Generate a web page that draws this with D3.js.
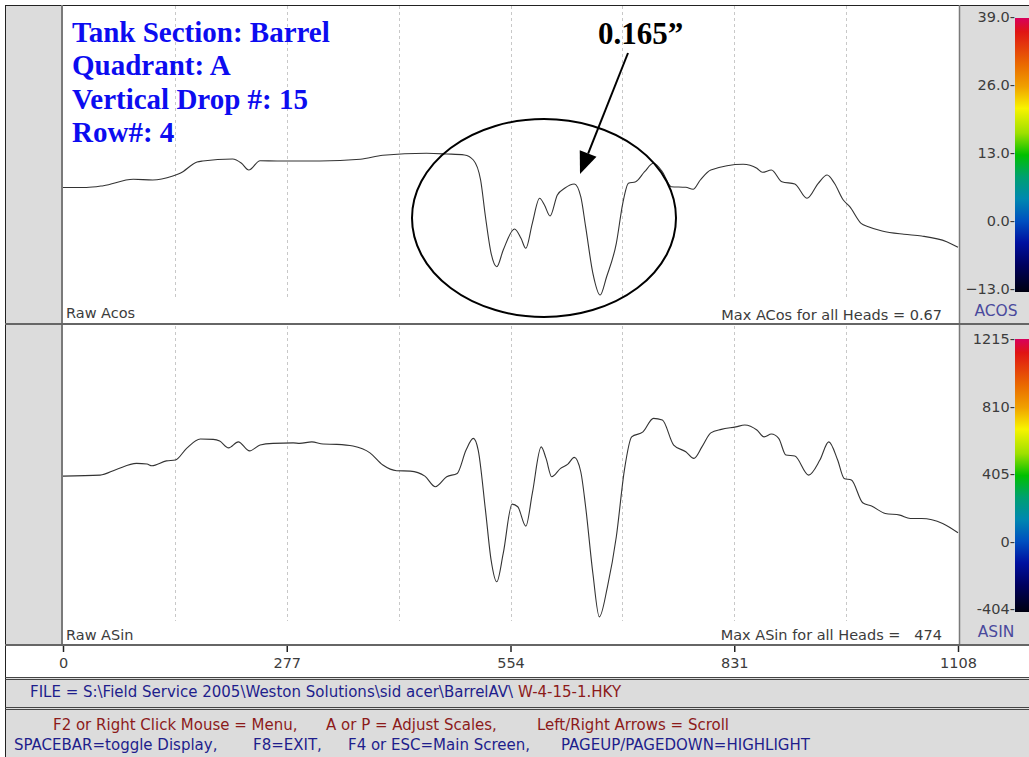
<!DOCTYPE html>
<html><head><meta charset="utf-8">
<script src="https://cdn.jsdelivr.net/npm/d3@7/dist/d3.min.js"></script>
<style>
html,body{margin:0;padding:0;background:#fff;}
svg{display:block;font-family:"DejaVu Sans",sans-serif;}
</style></head>
<body>
<svg id="chart" width="1029" height="757"></svg>
<script>
// ---------------- DATA ----------------
const xTicks = [0, 277, 554, 831, 1108];
const gridPositions = [138.5, 277, 415.5, 554, 692.5, 831, 969.5];
const acosTicks = [39, 26, 13, 0, -13];
const asinTicks = [1215, 810, 405, 0, -404];

const acosPos = [0,29,50,87,111,136,145,166,173,210,221,230,244,265,318,368,396,450,475,497,508,517,523,530,537,545,559,567,573,581,590,596,603,612,621,633,641,647,656,665,673,685,693,700,709,720,731,742,753,771,780,789,802,842,859,866,877,890,906,921,935,946,955,966,974,988,997,1014,1041,1063,1094,1108];
const acosVal = [6.4,6.4,6.75,7.97,7.84,8.6,9.12,11.28,11.47,11.85,11.03,9.75,11.53,11.47,11.47,11.8,12.56,12.94,12.81,12.62,11.66,7.84,0.82,-6.18,-8.74,-5.54,-1.53,-3.31,-5.22,-0.44,4.34,3.06,0.96,4.97,6.25,7.07,4.65,-1.09,-10.0,-14.15,-10.65,-4.26,3.38,7.21,7.51,9.42,11.03,9.42,6.56,6.44,6.06,7.84,9.75,10.84,10.08,9.31,9.75,7.51,7.07,4.34,7.21,8.79,7.21,4.01,2.73,-0.44,-1.09,-1.91,-2.54,-2.87,-3.96,-5.03];

const asinPos = [0,46,66,91,104,110,128,139,153,170,186,194,205,217,231,244,260,285,293,308,322,339,359,380,396,413,430,448,461,475,488,499,508,514,523,530,537,545,556,563,573,581,592,598,605,616,625,633,641,647,656,664,674,685,695,704,718,731,742,756,771,781,791,802,815,833,844,859,868,877,886,895,906,923,937,948,959,967,976,990,1001,1018,1036,1049,1063,1089,1108];
const asinVal = [393,399,433,469,465,455,484,489,559,615,613,603,562,598,544,579,589,592,589,598,585,583,573,532,459,425,423,393,329,389,409,549,619,549,189,-111,-241,-71,225,209,93,289,568,499,389,439,465,505,419,209,-191,-451,-271,29,429,628,658,739,729,579,539,499,568,652,673,688,699,669,628,645,619,519,513,399,489,598,489,379,369,233,213,169,159,139,139,109,53];

const titleLines = ["Tank Section: Barrel", "Quadrant: A", "Vertical Drop #: 15", "Row#: 4"];
const calloutText = "0.165\u201D";
const acosMaxText = "Max ACos for all Heads = 0.67";
const asinMaxText = "Max ASin for all Heads =   474";

// ---------------- DRAW ----------------
const svg = d3.select("#chart");
const GREY = "#dcdcdc";
const SERIF = "'Liberation Serif','Times New Roman',serif";
const SANS = "'DejaVu Sans',sans-serif";
const L = 63, R = 959;
const x = d3.scaleLinear().domain([0, 1108]).range([L, 958]);
const yA = d3.scaleLinear().domain([-13, 39]).range([289, 17]);
const yS = d3.scaleLinear().domain([-404, 1215]).range([609, 339]);

// backgrounds
svg.append("rect").attr("x",5).attr("y",5).attr("width",1024).attr("height",752).attr("fill",GREY);
svg.append("rect").attr("x",L).attr("y",5).attr("width",R-L).attr("height",318).attr("fill","#fff");
svg.append("rect").attr("x",L).attr("y",325).attr("width",R-L).attr("height",320).attr("fill","#fff");
svg.append("rect").attr("x",5).attr("y",646).attr("width",1024).attr("height",31).attr("fill","#fff");

// frame lines
const ln = (x1,y1,x2,y2,c,w)=>svg.append("line").attr("x1",x1).attr("y1",y1).attr("x2",x2).attr("y2",y2).attr("stroke",c).attr("stroke-width",w);
ln(5.5,5,5.5,757,"#222",1);
ln(5,5.5,1029,5.5,"#222",1);
ln(62,5,62,645,"#7a7a7a",2);
ln(959.5,5,959.5,645,"#7a7a7a",1.5);
ln(5,324,1029,324,"#666",2);
ln(5,645,1029,645,"#666",2);
ln(5,677.5,1029,677.5,"#444",1);
ln(5,679.5,1029,679.5,"#444",1);
ln(5,707.5,1029,707.5,"#444",1);
ln(5,709.5,1029,709.5,"#444",1);

// grid
function grid(y1,y2){
  svg.append("g").selectAll("line").data(gridPositions).join("line")
    .attr("x1",d=>Math.round(x(d))+0.5).attr("x2",d=>Math.round(x(d))+0.5)
    .attr("y1",y1).attr("y2",y2)
    .attr("stroke","#c8c8c8").attr("stroke-width",1).attr("stroke-dasharray","3,3");
}
grid(6,300); grid(326,621);

// curves
const lineA = d3.line().x((d,i)=>x(acosPos[i])).y(d=>yA(d)).curve(d3.curveMonotoneX);
const lineS = d3.line().x((d,i)=>x(asinPos[i])).y(d=>yS(d)).curve(d3.curveMonotoneX);
svg.append("path").attr("d",lineA(acosVal)).attr("fill","none").attr("stroke","#333").attr("stroke-width",1.1);
svg.append("path").attr("d",lineS(asinVal)).attr("fill","none").attr("stroke","#333").attr("stroke-width",1.1);

// panel labels
const lab = (t,xx,yy,anchor,col,size)=>svg.append("text").attr("x",xx).attr("y",yy).attr("text-anchor",anchor||"start")
  .attr("fill",col||"#3c3c3c").attr("font-size",size||14.5).style("font-family",SANS).style("white-space","pre").text(t);
lab("Raw Acos",66,318);
lab(acosMaxText,942,320,"end");
lab("Raw ASin",66,640);
lab(asinMaxText,942,640,"end");
lab("ACOS",996,316,"middle","#4a4a9c",15.5);
lab("ASIN",996,637,"middle","#4a4a9c",15.5);

// colour bars
const defs = svg.append("defs");
const grad = defs.append("linearGradient").attr("id","rb").attr("x1",0).attr("y1",0).attr("x2",0).attr("y2",1);
[[0,"#d8005c"],[0.05,"#e01414"],[0.17,"#ea6a00"],[0.25,"#f0a000"],[0.33,"#f8f400"],[0.42,"#9ee000"],[0.5,"#00c000"],[0.58,"#00a070"],[0.66,"#0088b0"],[0.74,"#0050c0"],[0.82,"#0010a0"],[0.9,"#000060"],[1,"#000010"]]
 .forEach(s=>grad.append("stop").attr("offset",s[0]).attr("stop-color",s[1]));
svg.append("rect").attr("x",1015).attr("y",yA(39)+1).attr("width",14).attr("height",yA(-13)-yA(39)+2).attr("fill","url(#rb)");
svg.append("rect").attr("x",1015).attr("y",yS(1215)).attr("width",14).attr("height",yS(-404)-yS(1215)+3).attr("fill","url(#rb)");

function cbAxis(scale, ticks, fmt){
  const g = svg.append("g").attr("transform","translate(1015,0)")
    .call(d3.axisLeft(scale).tickValues(ticks).tickSize(0).tickPadding(0).tickFormat(d=>fmt(d)+"-"));
  g.select(".domain").remove();
  g.selectAll("text").attr("fill","#3c3c3c").attr("font-size",14.5).style("font-family",SANS);
}
cbAxis(yA, acosTicks, d=>d3.format(".1f")(d));
cbAxis(yS, asinTicks, d=>String(d));

// x axis
const xa = svg.append("g").attr("transform","translate(0,646)")
  .call(d3.axisBottom(x).tickValues(xTicks).tickSize(6).tickPadding(6).tickFormat(d3.format("d")));
xa.select(".domain").remove();
xa.selectAll(".tick line").attr("stroke","#222").attr("stroke-width",1.5);
xa.selectAll("text").attr("fill","#3c3c3c").attr("font-size",14.5).style("font-family",SANS);

// status bars
const fileT = svg.append("text").attr("x",30).attr("y",697).attr("font-size",15).attr("fill","#1e1e8c").style("font-family",SANS).style("white-space","pre");
fileT.append("tspan").text("FILE = S:\\Field Service 2005\\Weston Solutions\\sid acer\\BarrelAV\\ ");
fileT.append("tspan").attr("fill","#8c1a1a").text("W-4-15-1.HKY");
lab("F2 or Right Click Mouse = Menu,",53,730,"start","#8c1a1a",15);
lab("A or P = Adjust Scales,",326,730,"start","#8c1a1a",15);
lab("Left/Right Arrows = Scroll",537,730,"start","#8c1a1a",15);
lab("SPACEBAR=toggle Display,",14,750,"start","#1e1e8c",15);
lab("F8=EXIT,",253,750,"start","#1e1e8c",15);
lab("F4 or ESC=Main Screen,",348,750,"start","#1e1e8c",15);
lab("PAGEUP/PAGEDOWN=HIGHLIGHT",561,750,"start","#1e1e8c",15);

// title annotation
svg.append("g").selectAll("text").data(titleLines).join("text")
  .attr("x",72).attr("y",(d,i)=>42+i*33.3)
  .style("font-family",SERIF).attr("font-weight","bold")
  .attr("font-size",29).attr("fill","#0c0cf0").text(d=>d);

// callout
svg.append("text").attr("x",598).attr("y",44).style("font-family",SERIF)
  .attr("font-weight","bold").attr("font-size",31).attr("fill","#000").text(calloutText);
svg.append("ellipse").attr("cx",544).attr("cy",218).attr("rx",132).attr("ry",99)
  .attr("fill","none").attr("stroke","#000").attr("stroke-width",2);
const S=[628,53], T=[580,174];
const dx=T[0]-S[0], dy=T[1]-S[1], len=Math.hypot(dx,dy), ux=dx/len, uy=dy/len;
const B=[T[0]-22*ux, T[1]-22*uy], nx=-uy, ny=ux;
svg.append("line").attr("x1",S[0]).attr("y1",S[1]).attr("x2",B[0]).attr("y2",B[1]).attr("stroke","#000").attr("stroke-width",2);
svg.append("path").attr("d",`M${T[0]},${T[1]}L${B[0]+9*nx},${B[1]+9*ny}L${B[0]-9*nx},${B[1]-9*ny}Z`).attr("fill","#000");
</script>
</body></html>
